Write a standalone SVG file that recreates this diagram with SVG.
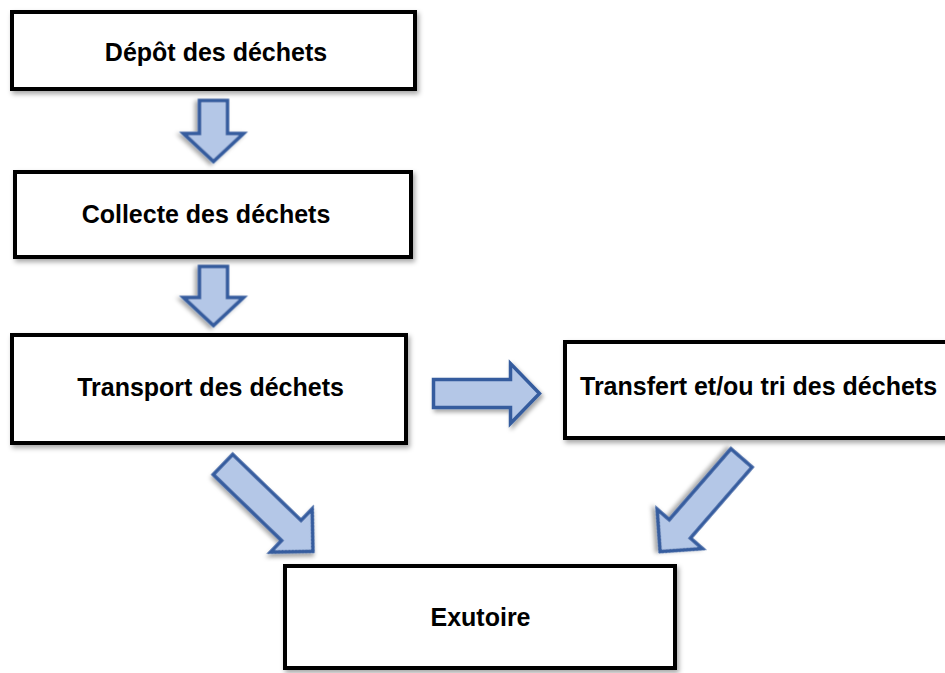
<svg xmlns="http://www.w3.org/2000/svg" width="945" height="673" viewBox="0 0 945 673">
  <style>
    .box { fill: #ffffff; stroke: #000000; stroke-width: 4; filter: url(#shadow); }
    .lbl { font-family: "Liberation Sans", Arial, sans-serif; font-weight: bold; font-size: 25px; fill: #000000; }
    .arrow { fill: #b4c7e7; stroke: #345c9e; stroke-width: 3.5; stroke-linejoin: miter; filter: url(#ashadow); }
  </style>
  <defs>
    <filter id="shadow" x="-10%" y="-20%" width="130%" height="150%">
      <feDropShadow dx="2" dy="3" stdDeviation="2.5" flood-color="#000000" flood-opacity="0.35"/>
    </filter>
    <filter id="ashadow" x="-30%" y="-30%" width="160%" height="160%">
      <feDropShadow dx="2" dy="3" stdDeviation="2" flood-color="#000000" flood-opacity="0.35"/>
    </filter>
  </defs>
  <rect width="945" height="673" fill="#ffffff"/>

  <g id="connectors">
    <!-- Dépôt -> Collecte -->
    <path class="arrow" transform="translate(213.5,100.5) rotate(90)" d="M0,-14 L33,-14 L33,-30 L61,0 L33,30 L33,14 L0,14 Z"/>
    <!-- Collecte -> Transport -->
    <path class="arrow" transform="translate(213.5,266.5) rotate(90)" d="M0,-14 L31,-14 L31,-30 L59,0 L31,30 L31,14 L0,14 Z"/>
    <!-- Transport -> Transfert -->
    <path class="arrow" transform="translate(433.5,393.5)" d="M0,-14 L77,-14 L77,-30 L106,0 L77,30 L77,14 L0,14 Z"/>
    <!-- Transport -> Exutoire -->
    <path class="arrow" transform="translate(223,464.5) rotate(44)" d="M0,-14 L95,-14 L95,-30 L125,0 L95,30 L95,14 L0,14 Z"/>
    <!-- Transfert -> Exutoire -->
    <path class="arrow" transform="translate(741.5,458) rotate(131)" d="M0,-14 L94,-14 L94,-30 L124,0 L94,30 L94,14 L0,14 Z"/>
  </g>

  <g id="node-depot">
    <rect class="box" x="12" y="12" width="403" height="77"/>
    <text class="lbl" x="216" y="61" text-anchor="middle">Dépôt des déchets</text>
  </g>
  <g id="node-collecte">
    <rect class="box" x="15" y="172" width="396" height="85"/>
    <text class="lbl" x="206" y="223" text-anchor="middle">Collecte des déchets</text>
  </g>
  <g id="node-transport">
    <rect class="box" x="12" y="335" width="394" height="108"/>
    <text class="lbl" x="210.5" y="396" text-anchor="middle">Transport des déchets</text>
  </g>
  <g id="node-transfert">
    <rect class="box" x="565" y="342" width="400" height="96"/>
    <text class="lbl" x="580" y="395">Transfert et/ou tri des déchets</text>
  </g>
  <g id="node-exutoire">
    <rect class="box" x="285" y="566" width="390" height="102"/>
    <text class="lbl" x="480.5" y="626" text-anchor="middle">Exutoire</text>
  </g>
</svg>
